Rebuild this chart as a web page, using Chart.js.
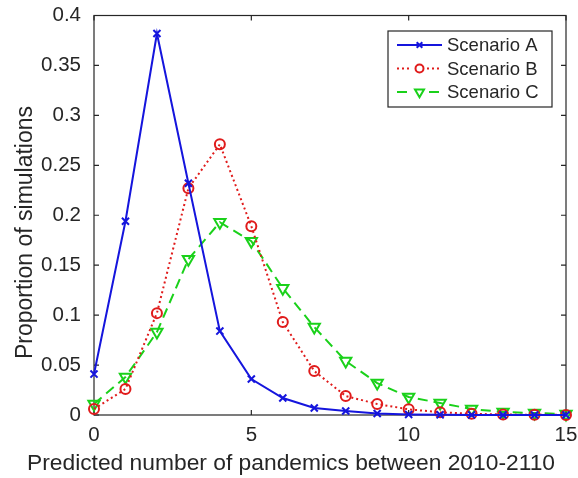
<!DOCTYPE html>
<html>
<head>
<meta charset="utf-8">
<script src="https://cdn.jsdelivr.net/npm/chart.js@4"></script>
<style>
  html, body { margin: 0; padding: 0; background: #fff; }
  #wrap { width: 578px; height: 478px; }
</style>
</head>
<body>
<div id="wrap"><canvas id="chart" width="578" height="478"></canvas></div>
<script>
// Distribution of predicted pandemic counts, three scenarios (MATLAB-style look)
const counts = [0, 1, 2, 3, 4, 5, 6, 7, 8, 9, 10, 11, 12, 13, 14, 15];
const scenarioA = [0.041, 0.194, 0.382, 0.232, 0.084, 0.036, 0.017, 0.007, 0.004, 0.0015, 0.0006, 0.0002, 0.0001, 0, 0, 0];
const scenarioB = [0.006, 0.026, 0.102, 0.227, 0.271, 0.189, 0.093, 0.044, 0.019, 0.011, 0.0057, 0.0027, 0.0012, 0.0005, 0.0002, 0.0001];
const scenarioC = [0.011, 0.038, 0.083, 0.156, 0.193, 0.174, 0.127, 0.088, 0.054, 0.032, 0.018, 0.012, 0.006, 0.003, 0.002, 0.001];
const seriesNames = ['Scenario A', 'Scenario B', 'Scenario C'];
const xTicks = [0, 5, 10, 15];
const yTicks = [0, 0.05, 0.1, 0.15, 0.2, 0.25, 0.3, 0.35, 0.4];
const xTitle = 'Predicted number of pandemics between 2010-2110';
const yTitle = 'Proportion of simulations';

const FONT = "'Liberation Sans', Arial, Helvetica, sans-serif";
const INK = '#262626';
const BLUE = '#1515dd', RED = '#e01b1b', GREEN = '#1ad11a';

function pts(ys) { return counts.map((x, i) => ({ x: x, y: ys[i] })); }

// box + inward tick marks on all four sides
const boxPlugin = {
  id: 'box',
  beforeDatasetsDraw(chart) {
    const { ctx, chartArea: a, scales } = chart;
    ctx.save();
    ctx.strokeStyle = INK;
    ctx.lineWidth = 1.2;
    ctx.strokeRect(a.left, a.top, a.right - a.left, a.bottom - a.top);
    const tl = 5;
    ctx.beginPath();
    xTicks.forEach(v => {
      const px = scales.x.getPixelForValue(v);
      ctx.moveTo(px, a.bottom); ctx.lineTo(px, a.bottom - tl);
      ctx.moveTo(px, a.top); ctx.lineTo(px, a.top + tl);
    });
    yTicks.forEach(v => {
      const py = scales.y.getPixelForValue(v);
      ctx.moveTo(a.left, py); ctx.lineTo(a.left + tl, py);
      ctx.moveTo(a.right, py); ctx.lineTo(a.right - tl, py);
    });
    ctx.stroke();

    // axis titles, placed like the MATLAB figure (centred on the figure, not the axes)
    ctx.fillStyle = INK;
    ctx.textAlign = 'center';
    ctx.textBaseline = 'alphabetic';
    ctx.font = '22.8px ' + FONT;
    ctx.fillText(xTitle, 291, 470);
    ctx.translate(32, 232.5);
    ctx.rotate(-Math.PI / 2);
    ctx.font = '23px ' + FONT;
    ctx.fillText(yTitle, 0, 0);
    ctx.restore();
  }
};

// legend box in the upper right, line sample with marker in the middle
const legendPlugin = {
  id: 'mlegend',
  afterDraw(chart) {
    const { ctx } = chart;
    const bx = 388, by = 31, bw = 164, bh = 76;
    ctx.save();
    ctx.fillStyle = '#fff';
    ctx.fillRect(bx, by, bw, bh);
    ctx.strokeStyle = INK;
    ctx.lineWidth = 1.2;
    ctx.strokeRect(bx, by, bw, bh);
    chart.data.datasets.forEach((ds, i) => {
      const y = 45 + i * 23.5;
      ctx.strokeStyle = ds.borderColor;
      ctx.lineWidth = ds.borderWidth;
      ctx.setLineDash(ds.borderDash || []);
      ctx.beginPath();
      ctx.moveTo(397, y); ctx.lineTo(442, y);
      ctx.stroke();
      ctx.setLineDash([]);
      if (i > 0) { // MATLAB leaves a gap round the marker
        ctx.fillStyle = '#fff';
        ctx.fillRect(412, y - 6, 15, 12);
      }
      ctx.fillStyle = 'rgba(0,0,0,0)';
      ctx.strokeStyle = ds.borderColor;
      Chart.helpers.drawPoint(ctx, {
        pointStyle: ds.pointStyle, rotation: ds.pointRotation || 0,
        radius: ds.pointRadius * 0.8, borderWidth: ds.pointBorderWidth
      }, 419.5, y);
      ctx.fillStyle = INK;
      ctx.font = '18.5px ' + FONT;
      ctx.textBaseline = 'middle';
      ctx.fillText(ds.label, 447, y + 1);
    });
    ctx.restore();
  }
};

new Chart(document.getElementById('chart'), {
  type: 'line',
  data: {
    datasets: [
      { label: seriesNames[0], data: pts(scenarioA), borderColor: BLUE, backgroundColor: 'rgba(0,0,0,0)',
        borderWidth: 2, pointStyle: 'crossRot', pointRadius: 5, pointBorderWidth: 2, pointBorderColor: BLUE, clip: false },
      { label: seriesNames[1], data: pts(scenarioB), borderColor: RED, backgroundColor: 'rgba(0,0,0,0)',
        borderWidth: 2, borderDash: [2, 3], pointStyle: 'circle', pointRadius: 5, pointBorderWidth: 2,
        pointBorderColor: RED, clip: false },
      { label: seriesNames[2], data: pts(scenarioC), borderColor: GREEN, backgroundColor: 'rgba(0,0,0,0)',
        borderWidth: 2, borderDash: [10, 6], pointStyle: 'triangle', pointRotation: 180, pointRadius: 6.5,
        pointBorderWidth: 2, pointBorderColor: GREEN, clip: false },
    ],
  },
  options: {
    responsive: false,
    animation: false,
    layout: { padding: { top: 15.5, right: 12, left: 0, bottom: 0 } },
    scales: {
      x: {
        type: 'linear', min: 0, max: 15,
        grid: { display: false, drawTicks: false }, border: { display: false },
        afterBuildTicks: s => { s.ticks = xTicks.map(v => ({ value: v })); },
        ticks: { color: INK, font: { family: FONT, size: 20.5 }, padding: 8, maxRotation: 0 },
        afterFit: s => { s.height = 63; s.paddingLeft = 0; s.paddingRight = 0; },
      },
      y: {
        min: 0, max: 0.4,
        grid: { display: false, drawTicks: false }, border: { display: false },
        afterBuildTicks: s => { s.ticks = yTicks.map(v => ({ value: v })); },
        ticks: { color: INK, font: { family: FONT, size: 20.5 }, padding: 13,
          callback: v => String(parseFloat(Number(v).toFixed(2))) },
        afterFit: s => { s.width = 94; s.paddingTop = 0; s.paddingBottom = 0; },
      },
    },
    plugins: { legend: { display: false }, tooltip: { enabled: false } },
  },
  plugins: [boxPlugin, legendPlugin],
});
</script>
</body>
</html>
